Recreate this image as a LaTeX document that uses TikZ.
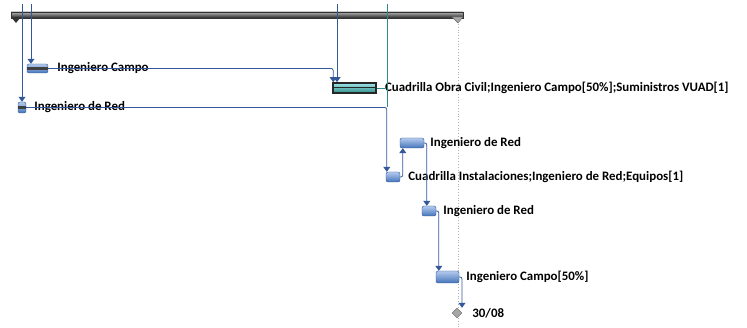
\documentclass[tikz,border=0pt]{standalone}
\usepackage{fontspec}
\setmainfont{Carlito}
\usetikzlibrary{shapes.geometric,arrows.meta,positioning}

\definecolor{bartop}{HTML}{B4CBEE}
\definecolor{barbot}{HTML}{4474BA}
\definecolor{barline}{HTML}{2A5290}
\definecolor{linkblue}{HTML}{33589A}
\definecolor{tealline}{HTML}{2E8C86}
\definecolor{cyanbar}{HTML}{5ED3DA}

\begin{document}
\begin{tikzpicture}[
    x=1pt, y=-1pt,
    task/.style={rectangle, draw=barline, top color=bartop, bottom color=barbot, rounded corners=2pt, inner sep=0pt},
    crit/.style={rectangle, draw=black!85, line width=1.6pt, top color=cyanbar!60, bottom color=tealline, inner sep=0pt},
    progress/.style={black!75, line width=2.2pt},
    link/.style={draw=linkblue, line width=0.8pt, rounded corners=2pt, -{Triangle[width=7pt,length=5pt]}},
    tlink/.style={draw=tealline, line width=0.8pt},
    lbl/.style={font=\fontsize{12.9}{15}\selectfont\bfseries, anchor=west, inner sep=0pt},
    hito/.style={diamond, draw=black!60, fill=gray!70, inner sep=0pt, minimum size=10pt}
]
\useasboundingbox (0,0) rectangle (747,328);

% Summary bar
\node[rectangle, draw=black!80, top color=gray!60, bottom color=black!85, inner sep=0pt,
      minimum width=452pt, minimum height=6pt] (resumen) at (237,15) {};
\fill[black!80] (11,17) -- (21,17) -- (16,23) -- cycle;
\fill[gray!70, draw=black!60] (452,17) -- (463,17) -- (458,23) -- cycle;
\draw[dotted, gray!60, line width=0.8pt] (458,24) -- (458,328);

% Tasks
\node[task, minimum width=21pt, minimum height=9pt] (campo1) at (37.5,68.5) {};
\node[task, minimum width=8pt, minimum height=11pt] (red1) at (22,107.5) {};
\node[crit, minimum width=43pt, minimum height=10pt] (obra) at (354.5,88) {};
\node[task, minimum width=24pt, minimum height=10pt] (red2) at (412,143) {};
\node[task, minimum width=14pt, minimum height=10pt] (inst) at (393,177) {};
\node[task, minimum width=14pt, minimum height=10pt] (red3) at (429,211) {};
\node[task, minimum width=23pt, minimum height=12pt] (campo2) at (447.5,277) {};
\node[hito] (fin) at (457,313) {};

\draw[progress] (campo1.west) -- (campo1.east);
\draw[progress] (red1.west) -- (red1.east);
\draw[black!85, line width=1pt] (obra.west) -- (obra.east);

% Labels
\node[lbl, right=9pt of campo1] (tcampo1) {Ingeniero Campo};
\node[lbl, right=8pt of red1] (tred1) {Ingeniero de Red};
\node[lbl, right=8pt of obra] (tobra) {Cuadrilla Obra Civil;Ingeniero Campo[50\%];Suministros VUAD[1]};
\node[lbl, right=6pt of red2] (tred2) {Ingeniero de Red};
\node[lbl, right=8pt of inst] (tinst) {Cuadrilla Instalaciones;Ingeniero de Red;Equipos[1]};
\node[lbl, right=7pt of red3] (tred3) {Ingeniero de Red};
\node[lbl, right=7pt of campo2] (tcampo2) {Ingeniero Campo[50\%]};
\node[lbl, right=10pt of fin] (tfin) {30/08};

% Links from above
\coordinate (a1) at (22,4);
\coordinate (a2) at (31,4);
\coordinate (a3) at (337,4);
\coordinate (a4) at (387,4);
\draw[link] (a1) -- (a1 |- red1.north);
\draw[link] (a2) -- (a2 |- campo1.north);
\draw[link] (a3) -- (a3 |- obra.north);
\draw[tlink] (a4) -- (a4 |- red1.east);
\draw[tlink] (obra.east) -- (tobra.west);

% Links between tasks
\draw[link] (campo1.east) -| ([xshift=1pt]obra.north west);
\draw[link] (red1.east) -| ([xshift=1pt]inst.north west);
\draw[link] (inst.east) -| ([xshift=3pt]red2.south west);
\draw[link] (red2.east) -| ([xshift=5pt]red3.north west);
\draw[link] (red3.east) -| ([xshift=3pt]campo2.north west);
\draw[link] (campo2.east) -| ([xshift=5pt]fin.north);
\end{tikzpicture}
\end{document}
